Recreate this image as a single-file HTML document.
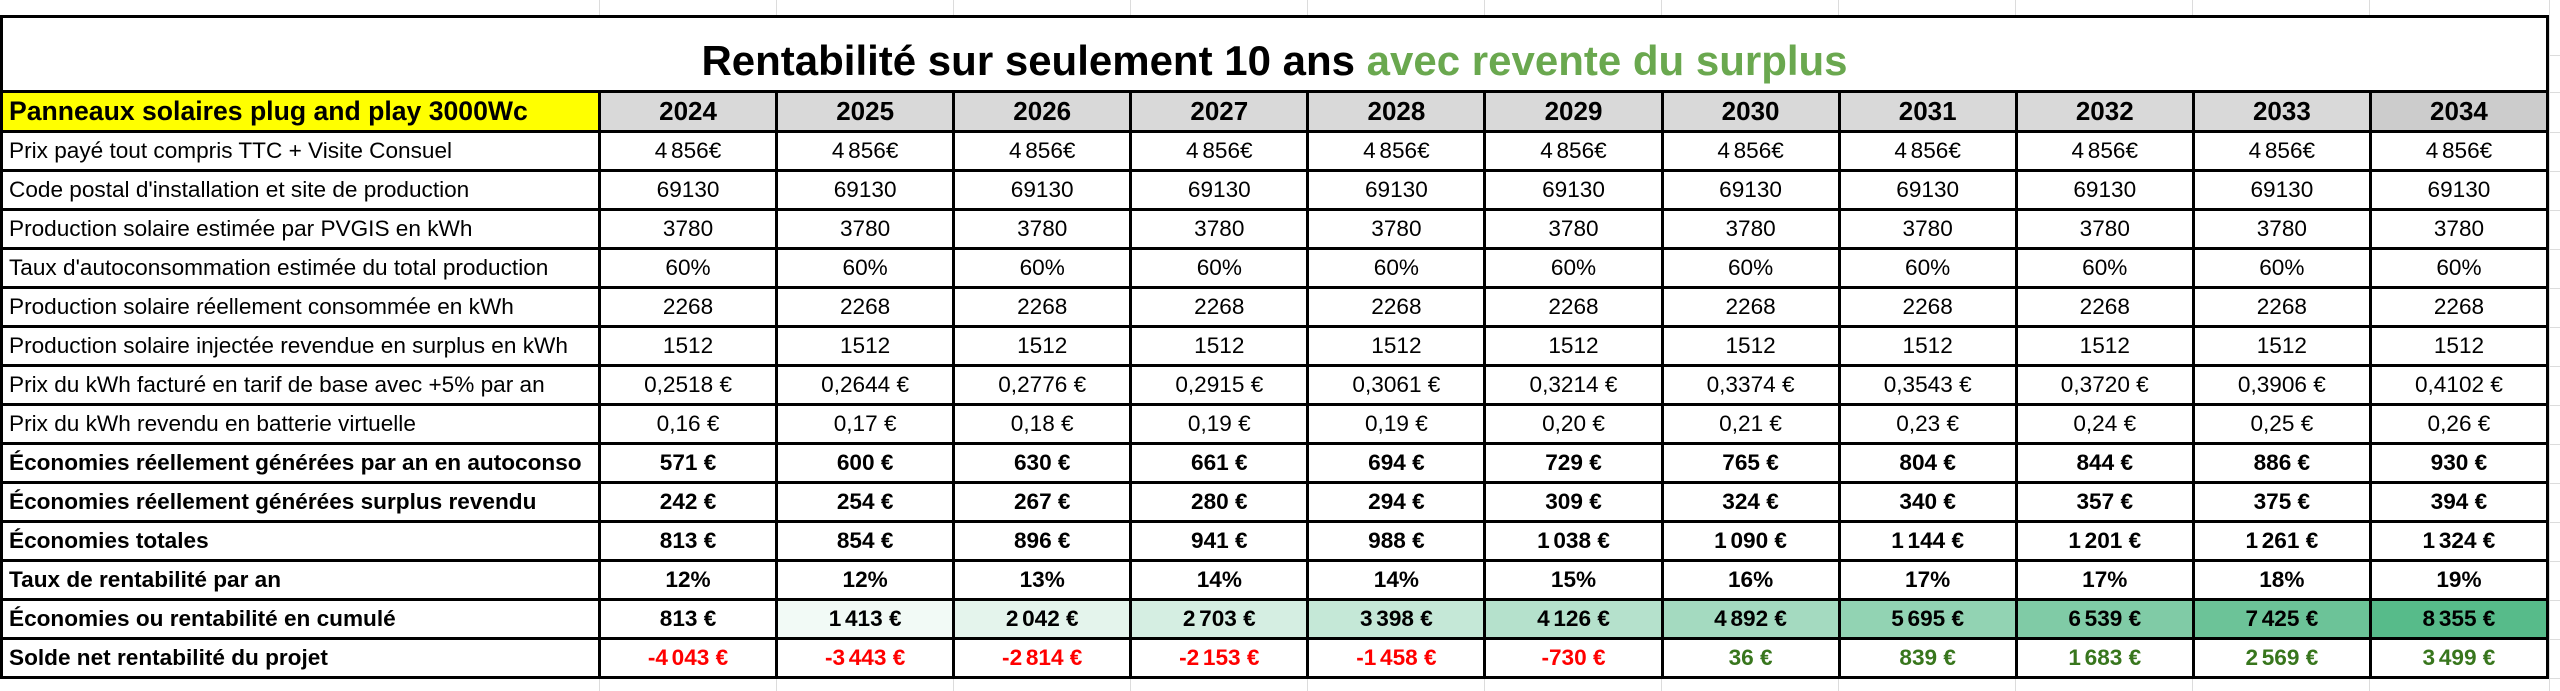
<!DOCTYPE html>
<html><head><meta charset="utf-8">
<style>
html,body{margin:0;padding:0;}
body{width:2560px;height:691px;position:relative;overflow:hidden;background:#fff;font-family:"Liberation Sans",Arial,sans-serif;color:#000;}
.vl{position:absolute;top:0;width:1px;height:691px;background:#dcdcdc;}
.hl{position:absolute;left:0;width:2560px;height:1px;background:#dcdcdc;}
.t{position:absolute;left:0;top:15px;width:2549px;box-sizing:border-box;padding:3px;background:#000;display:grid;grid-template-columns:595px repeat(11,1fr);grid-template-rows:72px 37px repeat(14,36px);gap:3px;}
.t>div{background:#fff;display:flex;align-items:center;justify-content:center;font-size:22.6px;white-space:nowrap;overflow:hidden;}
.t>div.l{justify-content:flex-start;padding-left:6px;}
.t>div.title{grid-column:1 / -1;display:block;text-align:center;font-weight:bold;font-size:42px;line-height:47px;padding-top:19px;box-sizing:border-box;}
.g{color:#6aa84f;}
.t>div.h{background:#d9d9d9;font-weight:bold;font-size:26px;}
.t>div.h2{background:#cccccc;}
.t>div.y{background:#ffff00;font-weight:bold;font-size:26.6px;justify-content:flex-start;padding-left:6px;}
.b{font-weight:bold;}
.t>div.r{color:#ff0000;font-weight:bold;}
.t>div.gr{color:#38761d;font-weight:bold;}
.s{letter-spacing:-2.6px;}
</style></head><body>
<div class="vl" style="left:599px"></div>
<div class="vl" style="left:776px"></div>
<div class="vl" style="left:953px"></div>
<div class="vl" style="left:1130px"></div>
<div class="vl" style="left:1307px"></div>
<div class="vl" style="left:1484px"></div>
<div class="vl" style="left:1661px"></div>
<div class="vl" style="left:1838px"></div>
<div class="vl" style="left:2015px"></div>
<div class="vl" style="left:2192px"></div>
<div class="vl" style="left:2369px"></div>
<div class="vl" style="left:2549px"></div>
<div class="hl" style="top:55px"></div>
<div class="hl" style="top:92px"></div>
<div class="hl" style="top:132px"></div>
<div class="hl" style="top:171px"></div>
<div class="hl" style="top:210px"></div>
<div class="hl" style="top:249px"></div>
<div class="hl" style="top:288px"></div>
<div class="hl" style="top:327px"></div>
<div class="hl" style="top:366px"></div>
<div class="hl" style="top:405px"></div>
<div class="hl" style="top:444px"></div>
<div class="hl" style="top:483px"></div>
<div class="hl" style="top:522px"></div>
<div class="hl" style="top:561px"></div>
<div class="hl" style="top:600px"></div>
<div class="hl" style="top:639px"></div>
<div class="hl" style="top:678px"></div>

<div class="t">
<div class="title">Rentabilité sur seulement 10 ans <span class="g">avec revente du surplus</span></div>

<div class="y">Panneaux solaires plug and play 3000Wc</div>
<div class="h">2024</div><div class="h">2025</div><div class="h">2026</div><div class="h">2027</div><div class="h">2028</div><div class="h">2029</div><div class="h">2030</div><div class="h">2031</div><div class="h">2032</div><div class="h">2033</div><div class="h h2">2034</div>

<div class="l">Prix payé tout compris TTC + Visite Consuel</div>
<div>4<span class="s">&nbsp;</span>856€</div><div>4<span class="s">&nbsp;</span>856€</div><div>4<span class="s">&nbsp;</span>856€</div><div>4<span class="s">&nbsp;</span>856€</div><div>4<span class="s">&nbsp;</span>856€</div><div>4<span class="s">&nbsp;</span>856€</div><div>4<span class="s">&nbsp;</span>856€</div><div>4<span class="s">&nbsp;</span>856€</div><div>4<span class="s">&nbsp;</span>856€</div><div>4<span class="s">&nbsp;</span>856€</div><div>4<span class="s">&nbsp;</span>856€</div>

<div class="l">Code postal d'installation et site de production</div>
<div>69130</div><div>69130</div><div>69130</div><div>69130</div><div>69130</div><div>69130</div><div>69130</div><div>69130</div><div>69130</div><div>69130</div><div>69130</div>

<div class="l">Production solaire estimée par PVGIS en kWh</div>
<div>3780</div><div>3780</div><div>3780</div><div>3780</div><div>3780</div><div>3780</div><div>3780</div><div>3780</div><div>3780</div><div>3780</div><div>3780</div>

<div class="l">Taux d'autoconsommation estimée du total production</div>
<div>60%</div><div>60%</div><div>60%</div><div>60%</div><div>60%</div><div>60%</div><div>60%</div><div>60%</div><div>60%</div><div>60%</div><div>60%</div>

<div class="l">Production solaire réellement consommée en kWh</div>
<div>2268</div><div>2268</div><div>2268</div><div>2268</div><div>2268</div><div>2268</div><div>2268</div><div>2268</div><div>2268</div><div>2268</div><div>2268</div>

<div class="l">Production solaire injectée revendue en surplus en kWh</div>
<div>1512</div><div>1512</div><div>1512</div><div>1512</div><div>1512</div><div>1512</div><div>1512</div><div>1512</div><div>1512</div><div>1512</div><div>1512</div>

<div class="l">Prix du kWh facturé en tarif de base avec +5% par an</div>
<div>0,2518 €</div><div>0,2644 €</div><div>0,2776 €</div><div>0,2915 €</div><div>0,3061 €</div><div>0,3214 €</div><div>0,3374 €</div><div>0,3543 €</div><div>0,3720 €</div><div>0,3906 €</div><div>0,4102 €</div>

<div class="l">Prix du kWh revendu en batterie virtuelle</div>
<div>0,16 €</div><div>0,17 €</div><div>0,18 €</div><div>0,19 €</div><div>0,19 €</div><div>0,20 €</div><div>0,21 €</div><div>0,23 €</div><div>0,24 €</div><div>0,25 €</div><div>0,26 €</div>

<div class="l b">Économies réellement générées par an en autoconso</div>
<div class="b">571 €</div><div class="b">600 €</div><div class="b">630 €</div><div class="b">661 €</div><div class="b">694 €</div><div class="b">729 €</div><div class="b">765 €</div><div class="b">804 €</div><div class="b">844 €</div><div class="b">886 €</div><div class="b">930 €</div>

<div class="l b">Économies réellement générées surplus revendu</div>
<div class="b">242 €</div><div class="b">254 €</div><div class="b">267 €</div><div class="b">280 €</div><div class="b">294 €</div><div class="b">309 €</div><div class="b">324 €</div><div class="b">340 €</div><div class="b">357 €</div><div class="b">375 €</div><div class="b">394 €</div>

<div class="l b">Économies totales</div>
<div class="b">813 €</div><div class="b">854 €</div><div class="b">896 €</div><div class="b">941 €</div><div class="b">988 €</div><div class="b">1<span class="s">&nbsp;</span>038 €</div><div class="b">1<span class="s">&nbsp;</span>090 €</div><div class="b">1<span class="s">&nbsp;</span>144 €</div><div class="b">1<span class="s">&nbsp;</span>201 €</div><div class="b">1<span class="s">&nbsp;</span>261 €</div><div class="b">1<span class="s">&nbsp;</span>324 €</div>

<div class="l b">Taux de rentabilité par an</div>
<div class="b">12%</div><div class="b">12%</div><div class="b">13%</div><div class="b">14%</div><div class="b">14%</div><div class="b">15%</div><div class="b">16%</div><div class="b">17%</div><div class="b">17%</div><div class="b">18%</div><div class="b">19%</div>

<div class="l b">Économies ou rentabilité en cumulé</div>
<div class="b" style="background:#ffffff">813 €</div>
<div class="b" style="background:#f2faf6">1<span class="s">&nbsp;</span>413 €</div>
<div class="b" style="background:#e4f4ec">2<span class="s">&nbsp;</span>042 €</div>
<div class="b" style="background:#d5eee2">2<span class="s">&nbsp;</span>703 €</div>
<div class="b" style="background:#c5e8d7">3<span class="s">&nbsp;</span>398 €</div>
<div class="b" style="background:#b5e1cc">4<span class="s">&nbsp;</span>126 €</div>
<div class="b" style="background:#a4dac0">4<span class="s">&nbsp;</span>892 €</div>
<div class="b" style="background:#92d3b3">5<span class="s">&nbsp;</span>695 €</div>
<div class="b" style="background:#80cba6">6<span class="s">&nbsp;</span>539 €</div>
<div class="b" style="background:#6cc398">7<span class="s">&nbsp;</span>425 €</div>
<div class="b" style="background:#57bb8a">8<span class="s">&nbsp;</span>355 €</div>

<div class="l b">Solde net rentabilité du projet</div>
<div class="r">-4<span class="s">&nbsp;</span>043 €</div><div class="r">-3<span class="s">&nbsp;</span>443 €</div><div class="r">-2<span class="s">&nbsp;</span>814 €</div><div class="r">-2<span class="s">&nbsp;</span>153 €</div><div class="r">-1<span class="s">&nbsp;</span>458 €</div><div class="r">-730 €</div><div class="gr">36 €</div><div class="gr">839 €</div><div class="gr">1<span class="s">&nbsp;</span>683 €</div><div class="gr">2<span class="s">&nbsp;</span>569 €</div><div class="gr">3<span class="s">&nbsp;</span>499 €</div>
</div>
</body></html>
